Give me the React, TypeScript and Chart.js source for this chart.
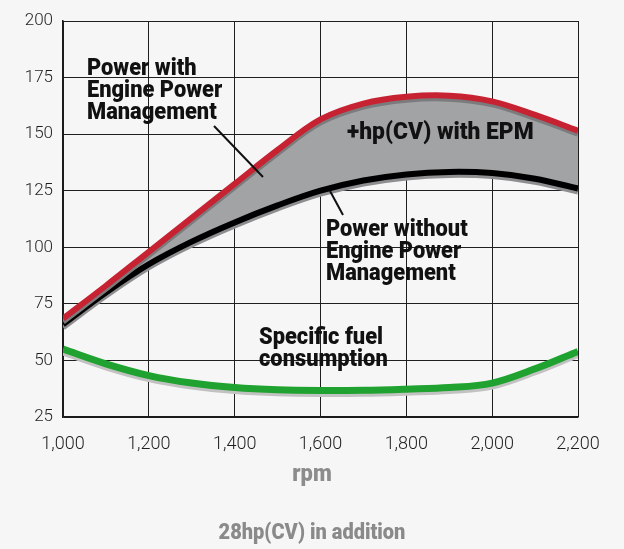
import React, { useEffect, useRef } from "react";
import { Chart, registerables } from "chart.js";

Chart.register(...registerables);

const rpm = [1000, 1100, 1200, 1300, 1400, 1500, 1600, 1700, 1800, 1900, 2000, 2100, 2200];
const powerWithEPM = [68.5, 83, 98, 113, 128, 143, 156.5, 163.5, 166.5, 167, 164.5, 158.5, 151.5];
const powerWithoutEPM = [66, 80, 92.5, 102.5, 111, 118.5, 125, 129.5, 132.2, 133.3, 132.8, 130.3, 126];
const fuelConsumption = [55, 48.5, 43.3, 40, 38, 37, 36.7, 36.8, 37.3, 38, 40, 46.3, 54];
const yTicks = [25, 50, 75, 100, 125, 150, 175, 200];
const xTicks = [1000, 1200, 1400, 1600, 1800, 2000, 2200];

const labelsWith = ["Power with", "Engine Power", "Management"];
const labelsWithout = ["Power without", "Engine Power", "Management"];
const labelFuel = ["Specific fuel", "consumption"];
const labelGap = "+hp(CV) with EPM";
const axisTitle = "rpm";
const caption = "28hp(CV) in addition";

const BOLD_FONT = 'Roboto, "Noto Sans", sans-serif';
const TICK_FONT = 'Roboto, "Noto Sans", sans-serif';
const SX = 0.91;

const shadowPlugin = {
  id: "lineShadow",
  beforeDatasetDraw(chart: any, args: any) {
    const ds = chart.data.datasets[args.index] as any;
    const ctx = chart.ctx;
    ctx.save();
    ctx.shadowColor = ds.shadowColor || "rgba(0,0,0,0)";
    ctx.shadowOffsetX = 0;
    ctx.shadowOffsetY = ds.shadowOffset ?? 0;
    ctx.shadowBlur = 0;
  },
  afterDatasetDraw(chart: any) {
    chart.ctx.restore();
  },
};

function drawText(
  ctx: CanvasRenderingContext2D,
  text: string,
  x: number,
  y: number,
  size: number,
  align: CanvasTextAlign,
  color: string,
  sx: number = SX
) {
  ctx.save();
  ctx.translate(x, y);
  ctx.scale(sx, 1);
  ctx.font = `900 ${size}px ${BOLD_FONT}`;
  ctx.textAlign = align;
  ctx.textBaseline = "alphabetic";
  ctx.fillStyle = color;
  ctx.fillText(text, 0, 0);
  ctx.restore();
}

const annotationPlugin = {
  id: "annotations",
  afterDraw(chart: any) {
    const ctx = chart.ctx as CanvasRenderingContext2D;
    const ink = "#111";
    labelsWith.forEach((t, i) => drawText(ctx, t, 87, 75 + i * 22, 24, "left", ink));
    labelsWithout.forEach((t, i) => drawText(ctx, t, 326, 236 + i * 22, 24, "left", ink));
    labelFuel.forEach((t, i) => drawText(ctx, t, 259, 344 + i * 21.5, 24, "left", ink));
    drawText(ctx, labelGap, 347, 139, 24, "left", ink, 0.95);

    ctx.save();
    ctx.strokeStyle = ink;
    ctx.lineWidth = 2;
    ctx.beginPath();
    ctx.moveTo(214, 126);
    ctx.lineTo(263, 177);
    ctx.moveTo(330, 191);
    ctx.lineTo(343, 215);
    ctx.stroke();
    ctx.restore();

    drawText(ctx, axisTitle, 312, 481, 24, "center", "#8c8c8c");
    drawText(ctx, caption, 312, 539, 22, "center", "#8a8a8a");
  },
};

export default function App() {
  const ref = useRef<HTMLCanvasElement | null>(null);

  useEffect(() => {
    if (!ref.current) return;
    const toPts = (arr: number[]) => rpm.map((x, i) => ({ x, y: arr[i] }));
    const chart = new Chart(ref.current, {
      type: "line",
      data: {
        datasets: [
          {
            label: "Power with Engine Power Management",
            data: toPts(powerWithEPM),
            borderColor: "#c62231",
            borderWidth: 6,
            pointRadius: 0,
            tension: 0.35,
            fill: { target: "+1" },
            backgroundColor: "#a2a3a5",
            shadowColor: "#7b7b7d",
            shadowOffset: 3,
          } as any,
          {
            label: "Power without Engine Power Management",
            data: toPts(powerWithoutEPM),
            borderColor: "#000000",
            borderWidth: 6,
            pointRadius: 0,
            tension: 0.35,
            fill: false,
            shadowColor: "#8e8e90",
            shadowOffset: 3,
          } as any,
          {
            label: "Specific fuel consumption",
            data: toPts(fuelConsumption),
            borderColor: "#1fa22f",
            borderWidth: 7,
            pointRadius: 0,
            tension: 0.35,
            fill: false,
            shadowColor: "#c2c2c2",
            shadowOffset: 3,
          } as any,
        ],
      },
      options: {
        animation: false,
        responsive: false,
        locale: "en-US",
        layout: { padding: { top: 21, right: 46, left: 0, bottom: 0 } },
        plugins: {
          legend: { display: false },
          tooltip: { enabled: false },
          filler: { drawTime: "beforeDatasetsDraw" },
        } as any,
        scales: {
          x: {
            type: "linear",
            min: 1000,
            max: 2200,
            afterFit: (s: any) => {
              s.height = 132;
            },
            afterBuildTicks: (s: any) => {
              s.ticks = xTicks.map((v) => ({ value: v }));
            },
            ticks: {
              padding: 17,
              color: "#1e1e1e",
              font: { family: TICK_FONT, size: 18, weight: "300" as any },
              maxRotation: 0,
              callback: (v: any) => Number(v).toLocaleString("en-US"),
            },
            grid: { color: "#1f1f1f", lineWidth: 1, drawTicks: false },
            border: { color: "#1a1a1a", width: 1.5 },
          },
          y: {
            type: "linear",
            min: 25,
            max: 200,
            afterFit: (s: any) => {
              s.width = 63;
            },
            afterBuildTicks: (s: any) => {
              s.ticks = yTicks.map((v) => ({ value: v }));
            },
            ticks: {
              padding: 10,
              color: "#1e1e1e",
              font: { family: TICK_FONT, size: 17, weight: "300" as any },
            },
            grid: { color: "#1f1f1f", lineWidth: 1, drawTicks: false },
            border: { color: "#1a1a1a", width: 1.5 },
          },
        },
      },
      plugins: [shadowPlugin, annotationPlugin],
    });
    return () => chart.destroy();
  }, []);

  return (
    <div
      style={{
        position: "fixed",
        left: 0,
        top: 0,
        width: 624,
        height: 549,
        background: "#f6f6f6",
      }}
    >
      <canvas ref={ref} width={624} height={549} style={{ width: 624, height: 549, display: "block" }} />
    </div>
  );
}
